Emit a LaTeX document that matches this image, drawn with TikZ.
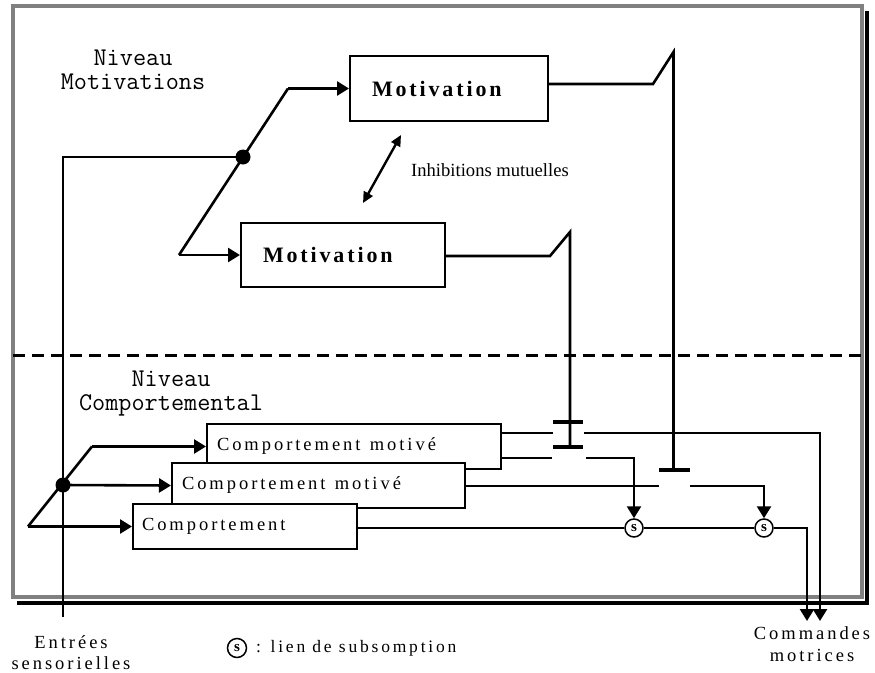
\documentclass[tikz,border=0pt]{standalone}
\usepackage{fontspec}
\setmainfont{Liberation Serif}
\usetikzlibrary{arrows.meta}

% serif text, spaced out
\newcommand{\spaced}[1]{\fontsize{#1}{#1}\selectfont\addfontfeature{LetterSpace=16}}
% typewriter text for the level names
\newcommand{\levelfont}{\fontsize{25.5}{24}\ttfamily\addfontfeature{LetterSpace=2}}

\tikzset{
  wire/.style={line width=2.6pt},
  arr/.style={wire, -{Triangle[length=12pt,width=14pt]}},
  dbl/.style={line width=2.4pt, {Triangle[length=11pt,width=10pt]}-{Triangle[length=11pt,width=10pt]}},
  bar/.style={line width=3.2pt},
  widegaps/.style={execute at begin node={\spaceskip=0.5em plus 0.1em\relax}},
  modbox/.style={draw, line width=2pt, fill=white, minimum height=45pt,
                 inner xsep=10pt, align=left, font=\spaced{18.5}, widegaps},
  motbox/.style={draw, line width=2pt, fill=white, inner xsep=22pt, align=left,
                 font={\bfseries\fontsize{22}{22}\selectfont\addfontfeature{LetterSpace=13}}},
  dot/.style={circle, fill=black, inner sep=0pt, minimum size=15pt},
  subs/.style={circle, draw, line width=1.5pt, fill=white, inner sep=0pt,
               minimum size=18pt, font=\bfseries\fontsize{15}{15}\selectfont},
  caption/.style={align=center, font=\spaced{18.5}, inner sep=0pt},
  level/.style={align=center, font=\levelfont, inner sep=0pt}
}

\begin{document}
\begin{tikzpicture}[x=1pt,y=-1pt]
\useasboundingbox (0,0) rectangle (875,672);

% frame with its shadow
\draw[line width=4.5pt] (867,11) -- (867,603) -- (17,603);
\draw[line width=3.2pt, draw=black!50] (13,6) rectangle (862,597);

% boundary between the two levels
\draw[line width=3pt, dash pattern=on 12pt off 7pt] (13,355) -- (862,355);

% level names
\node[level] (lvlM) at (133,70) {Niveau\\Motivations};
\node[level] (lvlC) at (171,394) {Niveau\\Comportemental};

% motivations
\node[motbox, text width=154pt, minimum height=65pt] (motA) at (449,88.5) {Motivation};
\node[motbox, text width=160pt, minimum height=64pt] (motB) at (343,255) {Motivation};

% behaviours, each one drawn over the previous
\node[modbox, text width=274pt] (cm1) at (354,446.5) {Comportement motivé};
\node[modbox, text width=273pt] (cm2) at (318.5,485.5) {Comportement motivé};
\node[modbox, text width=206pt, inner xsep=9pt] (cmp) at (245,526.5) {Comportement};

% sensory inputs
\coordinate (sIn) at (63,617);
\node[dot] (dA) at (243,157) {};
\node[dot] (dB) at (63,485) {};
\draw[wire] (sIn) |- (dA.center);

\coordinate (kA) at (288,88.5);
\coordinate (kB) at (179,255);
\draw[wire] (kB) -- (kA);
\draw[arr] (kA) -- (motA.west);
\draw[arr] (kB) -- (motB.west);

\coordinate (jA) at (92,446.5);
\coordinate (jB) at (28,526.5);
\draw[wire] (jB) -- (jA);
\draw[arr] (jA) -- (cm1.west);
\draw[arr] (dB.center) -- (cm2.west);
\draw[arr] (jB) -- (cmp.west);

% mutual inhibition
\coordinate (iB) at (363,203);
\coordinate (iA) at (401,135);
\draw[dbl] (iB) -- (iA);
\node[anchor=west, inner sep=0pt, font=\fontsize{18.6}{19}\selectfont] (inh) at (411,170) {Inhibitions mutuelles};

% inhibitors on the motivated behaviours
\coordinate (gA) at (673.5,470);
\coordinate (gB) at (570,447);
\draw[wire] (motA.east |- 0,84) -- (653,84) -- (673.5,52) -- (gA);
\draw[wire] (motB.east |- 0,256) -- (550,256) -- (570,232) -- (gB);
\draw[bar] (553,422) -- (583,422);
\draw[bar] (553,447) -- (583,447);
\draw[bar] (659,470) -- (690,470);

% subsumption links
\node[subs] (s1) at (634,528) {s};
\node[subs] (s2) at (764,528) {s};

% behaviour outputs
\coordinate (mA) at (820,621);
\coordinate (mB) at (807,621);
\draw[wire] (cm1.east |- 0,433) -- (553,433);
\draw[arr] (584,433) -- (820,433) -- (mA);
\draw[wire] (cm1.east |- 0,458) -- (552,458);
\draw[arr] (586,458) -- (634,458) -- (s1.north);
\draw[wire] (cm2.east |- 0,486) -- (659,486);
\draw[arr] (690,486) -- (764,486) -- (s2.north);
\draw[wire] (cmp.east |- s1) -- (s1.west);
\draw[wire] (s1.east) -- (s2.west);
\draw[arr] (s2.east) -- (807,528) -- (mB);

% captions
\node[caption] (capIn) at (71,652.5) {Entrées\\[3pt]sensorielles};
\node[caption] (capOut) at (812,644) {Commandes\\[4pt]motrices};
\node[subs, minimum size=19pt] (legS) at (237,648) {s};
\node[anchor=west, inner sep=0pt, font=\spaced{17.5}] (legT) at (256,648) {: lien de subsomption};
\end{tikzpicture}
\end{document}
